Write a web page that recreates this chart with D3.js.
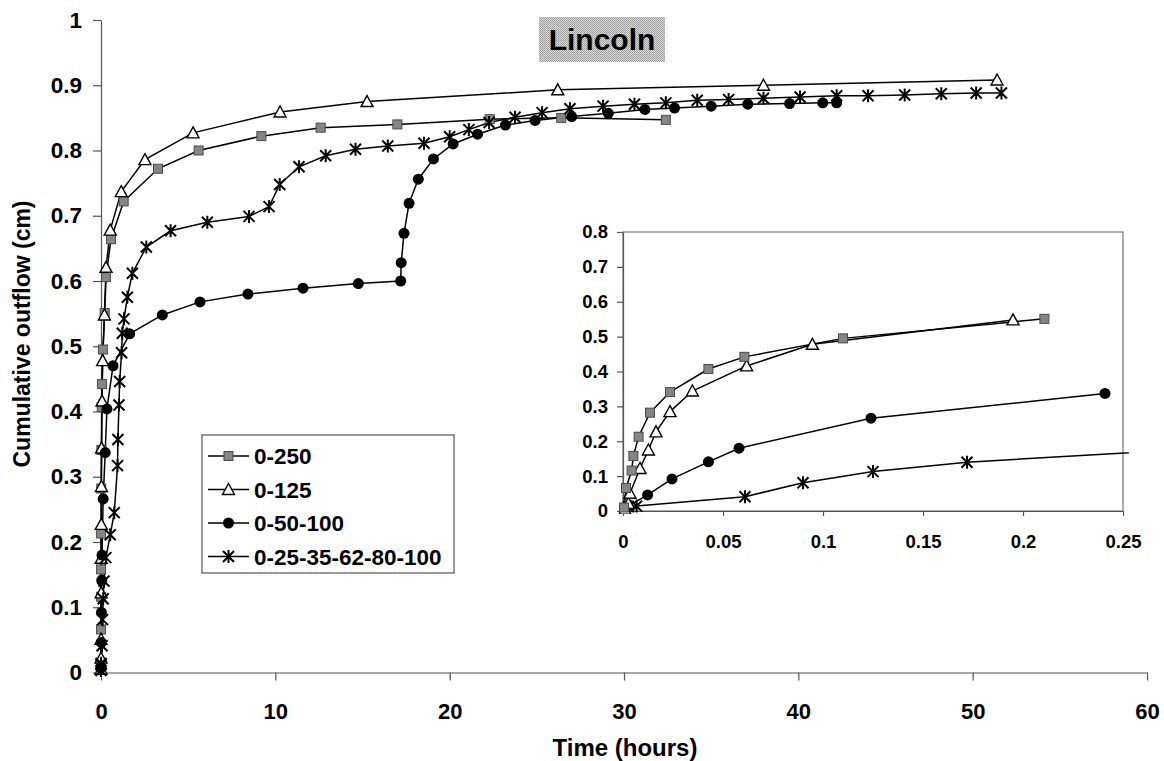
<!DOCTYPE html>
<html>
<head>
<meta charset="utf-8">
<script src="https://cdn.jsdelivr.net/npm/d3@7"></script>
<style>
  body { margin: 0; background: #fff; }
  text { font-family: "Liberation Sans", Arial, sans-serif; font-weight: bold; fill: #000; }
</style>
</head>
<body>
<script>
// series: time (hours) and cumulative outflow (cm)
var names = ["0-250", "0-125", "0-50-100", "0-25-35-62-80-100"];
var t250 = [0.0005, 0.0015, 0.0043, 0.0052, 0.0078, 0.0135, 0.0235, 0.0427, 0.0607, 0.110, 0.2107, 0.29, 0.57, 1.3, 3.27, 5.6, 9.2, 12.6, 17.0, 22.3, 26.4, 32.4];
var v250 = [0.01, 0.066, 0.116, 0.158, 0.213, 0.282, 0.341, 0.407, 0.442, 0.495, 0.551, 0.606, 0.664, 0.722, 0.772, 0.800, 0.822, 0.835, 0.840, 0.848, 0.850, 0.847];
var t125 = [0.001, 0.0027, 0.0035, 0.0085, 0.0127, 0.0165, 0.0235, 0.0347, 0.0618, 0.0947, 0.195, 0.29, 0.53, 1.16, 2.52, 5.28, 10.27, 15.26, 26.2, 38.0, 51.4];
var v125 = [0.005, 0.022, 0.051, 0.122, 0.175, 0.227, 0.285, 0.344, 0.416, 0.478, 0.548, 0.621, 0.678, 0.737, 0.786, 0.827, 0.859, 0.875, 0.893, 0.900, 0.908];
var t50 = [0.001, 0.0123, 0.0245, 0.0427, 0.058, 0.124, 0.241, 0.34, 0.69, 1.64, 3.52, 5.68, 8.43, 11.59, 14.76, 17.19, 17.22, 17.38, 17.67, 18.2, 19.07, 20.2, 21.6, 23.2, 24.9, 27.0, 29.1, 31.2, 32.9, 35.0, 37.1, 39.5, 41.4, 42.2];
var v50 = [0.008, 0.046, 0.092, 0.141, 0.180, 0.266, 0.337, 0.404, 0.470, 0.519, 0.548, 0.568, 0.580, 0.589, 0.596, 0.600, 0.628, 0.673, 0.719, 0.756, 0.787, 0.810, 0.825, 0.839, 0.846, 0.852, 0.857, 0.863, 0.865, 0.868, 0.871, 0.872, 0.873, 0.873];
var t25 = [0, 0.0027, 0.0068, 0.061, 0.09, 0.125, 0.172, 0.28, 0.53, 0.76, 0.95, 0.97, 1.03, 1.07, 1.18, 1.22, 1.32, 1.51, 1.8, 2.6, 3.99, 6.1, 8.49, 9.64, 10.25, 11.36, 12.89, 14.6, 16.45, 18.53, 20.0, 21.1, 22.26, 23.75, 25.3, 26.9, 28.8, 30.6, 32.4, 34.2, 36.0, 38.0, 40.1, 42.2, 44.0, 46.1, 48.2, 50.2, 51.65];
var v25 = [0.003, 0.012, 0.014, 0.041, 0.081, 0.113, 0.140, 0.176, 0.211, 0.245, 0.317, 0.357, 0.410, 0.446, 0.490, 0.520, 0.542, 0.575, 0.612, 0.652, 0.677, 0.690, 0.699, 0.714, 0.748, 0.775, 0.792, 0.802, 0.807, 0.811, 0.821, 0.832, 0.843, 0.851, 0.858, 0.864, 0.868, 0.871, 0.873, 0.877, 0.878, 0.880, 0.882, 0.884, 0.884, 0.885, 0.887, 0.888, 0.888];
// the inset only continues the last series past its right edge
var insetRunsOn = [false, false, false, true];

var xTicks = [0, 10, 20, 30, 40, 50, 60];
var yTicks = [0, 0.1, 0.2, 0.3, 0.4, 0.5, 0.6, 0.7, 0.8, 0.9, 1];
var xTicksIn = [0, 0.05, 0.1, 0.15, 0.2, 0.25];
var yTicksIn = [0, 0.1, 0.2, 0.3, 0.4, 0.5, 0.6, 0.7, 0.8];

var series = [
  {name: names[0], t: t250, v: v250, mark: "square"},
  {name: names[1], t: t125, v: v125, mark: "triangle"},
  {name: names[2], t: t50, v: v50, mark: "circle"},
  {name: names[3], t: t25, v: v25, mark: "star"}
];
series.forEach((s, k) => {
  s.pts = s.t.map((t, i) => [t, s.v[i]]);
  s.runsOn = insetRunsOn[k];
});

var svg = d3.select("body").append("svg").attr("width", 1164).attr("height", 761);

var defs = svg.append("defs");
var pat = defs.append("pattern").attr("id", "dith").attr("width", 2).attr("height", 2).attr("patternUnits", "userSpaceOnUse");
pat.append("rect").attr("width", 2).attr("height", 2).attr("fill", "#d8d8d8");
pat.append("rect").attr("width", 1).attr("height", 1).attr("fill", "#9a9a9a");
pat.append("rect").attr("x", 1).attr("y", 1).attr("width", 1).attr("height", 1).attr("fill", "#a8a8a8");

function drawMark(g, type, x, y) {
  if (type == "square") {
    g.append("rect").attr("x", x - 4.5).attr("y", y - 4.5).attr("width", 9).attr("height", 9)
      .attr("fill", "#858585").attr("stroke", "#4a4a4a").attr("stroke-width", 1);
  } else if (type == "triangle") {
    g.append("path").attr("d", "M" + x + "," + (y - 6) + "L" + (x + 6) + "," + (y + 5) + "L" + (x - 6) + "," + (y + 5) + "Z")
      .attr("fill", "#fff").attr("stroke", "#000").attr("stroke-width", 1.4);
  } else if (type == "circle") {
    g.append("circle").attr("cx", x).attr("cy", y).attr("r", 5.5).attr("fill", "#000");
  } else {
    var r = 5.5;
    g.append("path").attr("d", "M" + (x - r) + "," + (y - r) + "L" + (x + r) + "," + (y + r) +
      "M" + (x + r) + "," + (y - r) + "L" + (x - r) + "," + (y + r) +
      "M" + x + "," + (y - r - 1) + "L" + x + "," + (y + r + 1))
      .attr("stroke", "#000").attr("stroke-width", 2).attr("fill", "none");
  }
}

function styleAxis(a, size) {
  a.select(".domain").attr("stroke", "#555").attr("stroke-width", 1.2);
  a.selectAll(".tick line").attr("stroke", "#555").attr("stroke-width", 1.2);
  a.selectAll("text").attr("font-size", size).attr("font-family", "Liberation Sans, Arial, sans-serif").attr("font-weight", "bold").attr("fill", "#000");
}

// ---- main chart
var x = d3.scaleLinear().domain([0, 60]).range([101, 1147]);
var y = d3.scaleLinear().domain([0, 1]).range([672.5, 20]);

var gx = svg.append("g").attr("transform", "translate(0,672.5)")
  .call(d3.axisBottom(x).tickValues(xTicks).tickSize(8).tickPadding(23).tickSizeOuter(0).tickFormat(d3.format("d")));
styleAxis(gx, 22);
var gy = svg.append("g").attr("transform", "translate(101,0)")
  .call(d3.axisLeft(y).tickValues(yTicks).tickSize(8).tickPadding(11).tickSizeOuter(0).tickFormat(d => d === 0 ? "0" : d3.format(".1~f")(d)));
styleAxis(gy, 22.5);

var line = d3.line().x(d => x(d[0])).y(d => y(d[1]));
series.forEach(function(s) {
  svg.append("path").attr("d", line(s.pts)).attr("fill", "none").attr("stroke", "#000").attr("stroke-width", 1.5);
});
series.forEach(function(s) {
  var g = svg.append("g");
  s.pts.forEach(p => drawMark(g, s.mark, x(p[0]), y(p[1])));
});

// title
svg.append("rect").attr("x", 539).attr("y", 17).attr("width", 126).attr("height", 45).attr("fill", "url(#dith)");
svg.append("text").attr("x", 602).attr("y", 50).attr("text-anchor", "middle").attr("font-size", 30).text("Lincoln");

// axis titles
svg.append("text").attr("x", 625).attr("y", 756).attr("text-anchor", "middle").attr("font-size", 24).text("Time (hours)");
svg.append("text").attr("transform", "translate(30,334) rotate(-90)").attr("text-anchor", "middle").attr("font-size", 23).text("Cumulative outflow (cm)");

// legend
var leg = svg.append("g");
leg.append("rect").attr("x", 202).attr("y", 435).attr("width", 252).attr("height", 138)
  .attr("fill", "#fff").attr("stroke", "#555").attr("stroke-width", 1.2);
series.forEach(function(s, i) {
  var ly = 456 + i * 33.5;
  leg.append("line").attr("x1", 208).attr("x2", 249).attr("y1", ly).attr("y2", ly).attr("stroke", "#000").attr("stroke-width", 1.5);
  drawMark(leg, s.mark, 228.5, ly);
  leg.append("text").attr("x", 254).attr("y", ly + 8).attr("font-size", 22.5).text(s.name);
});

// ---- inset
var xi = d3.scaleLinear().domain([0, 0.25]).range([623, 1123]);
var yi = d3.scaleLinear().domain([0, 0.8]).range([511, 232]);
var ins = svg.append("g");
ins.append("rect").attr("x", 623).attr("y", 232).attr("width", 500).attr("height", 279)
  .attr("fill", "#fff").attr("stroke", "#777").attr("stroke-width", 1.2);
defs.append("clipPath").attr("id", "clipIn").append("rect").attr("x", 619).attr("y", 228).attr("width", 510).attr("height", 286);

var gxi = ins.append("g").attr("transform", "translate(0,511)")
  .call(d3.axisBottom(xi).tickValues(xTicksIn).tickSize(5).tickPadding(19).tickSizeOuter(0).tickFormat(d => d === 0 ? "0" : d3.format("~g")(d)));
styleAxis(gxi, 18.5);
var gyi = ins.append("g").attr("transform", "translate(623,0)")
  .call(d3.axisLeft(yi).tickValues(yTicksIn).tickSize(6).tickPadding(9).tickSizeOuter(0).tickFormat(d => d === 0 ? "0" : d3.format(".1~f")(d)));
styleAxis(gyi, 18.5);

var lineIn = d3.line().x(d => xi(d[0])).y(d => yi(d[1]));
var inPlot = ins.append("g").attr("clip-path", "url(#clipIn)");
series.forEach(function(s) {
  var pts = s.pts.filter((p, i) => p[0] <= 0.25 || (s.runsOn && s.pts[i - 1][0] <= 0.25));
  inPlot.append("path").attr("d", lineIn(pts))
    .attr("fill", "none").attr("stroke", "#000").attr("stroke-width", 1.5);
});
series.slice().reverse().forEach(function(s) {
  var g = inPlot.append("g");
  s.pts.filter(p => p[0] <= 0.25).forEach(p => drawMark(g, s.mark, xi(p[0]), yi(p[1])));
});
</script>
</body>
</html>
